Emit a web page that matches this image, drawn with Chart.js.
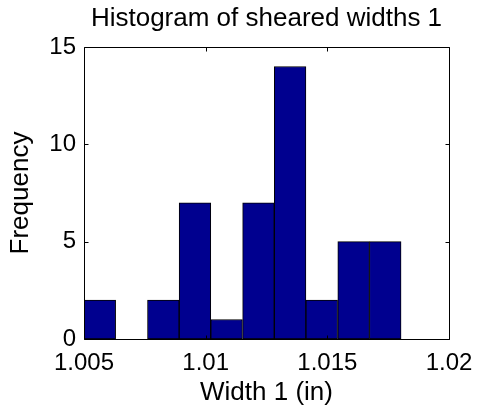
<!DOCTYPE html>
<html>
<head>
<meta charset="utf-8">
<script src="https://cdn.jsdelivr.net/npm/chart.js@4"></script>
<style>
  html, body { margin: 0; padding: 0; background: #fff; }
  #wrap { width: 477px; height: 411px; }
</style>
</head>
<body>
<div id="wrap"><canvas id="c" width="477" height="411"></canvas></div>
<script>
// Histogram bin centers (Width 1, inches) and counts
const binCenters = [1.00565, 1.00695, 1.00826, 1.00956, 1.01086, 1.01217, 1.01347, 1.01477, 1.01608, 1.01738];
const counts     = [2, 0, 2, 7, 1, 7, 14, 2, 5, 5];
const xTicks = [1.005, 1.01, 1.015, 1.02];
const yTicks = [0, 5, 10, 15];
const titleText = 'Histogram of sheared widths 1';
const xLabel = 'Width 1 (in)';
const yLabel = 'Frequency';

const FONT = "'Liberation Sans', Arial, Helvetica, sans-serif";

const boxPlugin = {
  id: 'matlabBox',
  afterDatasetsDraw(chart) {
    const { ctx, chartArea: a, scales } = chart;
    ctx.save();
    ctx.strokeStyle = '#000';
    ctx.lineWidth = 1;
    const L = Math.round(a.left) + 0.5, R = Math.round(a.right) + 0.5;
    const T = Math.round(a.top) + 0.5, B = Math.round(a.bottom) + 0.5;
    ctx.beginPath();
    ctx.rect(L, T, R - L, B - T);
    const tl = 4;
    xTicks.forEach(v => {
      const px = Math.round(scales.x.getPixelForValue(v)) + 0.5;
      ctx.moveTo(px, B); ctx.lineTo(px, B - tl);
      ctx.moveTo(px, T); ctx.lineTo(px, T + tl);
    });
    yTicks.forEach(v => {
      const py = Math.round(scales.y.getPixelForValue(v)) + 0.5;
      ctx.moveTo(L, py); ctx.lineTo(L + tl, py);
      ctx.moveTo(R, py); ctx.lineTo(R - tl, py);
    });
    ctx.stroke();
    // axes title, centred over the plot area
    ctx.fillStyle = '#000';
    ctx.font = '26px ' + FONT;
    ctx.textAlign = 'center';
    ctx.textBaseline = 'middle';
    ctx.fillText(titleText, (a.left + a.right) / 2, 18.6);
    ctx.restore();
  }
};

new Chart(document.getElementById('c'), {
  type: 'bar',
  data: {
    datasets: [{
      data: binCenters.map((x, i) => ({ x: x, y: counts[i] })),
      backgroundColor: '#00008f',
      borderColor: '#000',
      borderWidth: 1,
      barPercentage: 1.0,
      categoryPercentage: 1.0,
      borderSkipped: false
    }]
  },
  options: {
    responsive: false,
    animation: false,
    devicePixelRatio: 1,
    layout: { padding: { left: 0, right: 28, top: 47, bottom: 0 } },
    plugins: {
      legend: { display: false },
      tooltip: { enabled: false },
      title: { display: false }
    },
    scales: {
      x: {
        type: 'linear',
        min: 1.005, max: 1.02,
        offset: false,
        grid: { display: false, drawTicks: false },
        border: { display: false },
        afterBuildTicks: (s) => { s.ticks = xTicks.map(v => ({ value: v })); },
        afterFit: (s) => { s.height = 72; s.paddingLeft = 0; s.paddingRight = 0; },
        ticks: {
          color: '#000',
          padding: 9.6,
          maxRotation: 0,
          autoSkip: false,
          font: { family: FONT, size: 24, lineHeight: 1.2 },
          callback: (v) => String(Number(Number(v).toFixed(4)))
        },
        title: {
          display: true,
          text: xLabel,
          color: '#000',
          font: { family: FONT, size: 26, lineHeight: 1.2 },
          padding: { top: 0, bottom: 2.4 }
        }
      },
      y: {
        min: 0, max: 15,
        grid: { display: false, drawTicks: false },
        border: { display: false },
        afterBuildTicks: (s) => { s.ticks = yTicks.map(v => ({ value: v })); },
        afterFit: (s) => { s.width = 84; s.paddingTop = 0; s.paddingBottom = 0; },
        ticks: {
          color: '#000',
          padding: 8,
          autoSkip: false,
          font: { family: FONT, size: 24, lineHeight: 1.2 }
        },
        title: {
          display: true,
          text: yLabel,
          color: '#000',
          font: { family: FONT, size: 26, lineHeight: 1.2 },
          padding: { top: 5, bottom: 0 }
        }
      }
    }
  },
  plugins: [boxPlugin]
});
</script>
</body>
</html>
